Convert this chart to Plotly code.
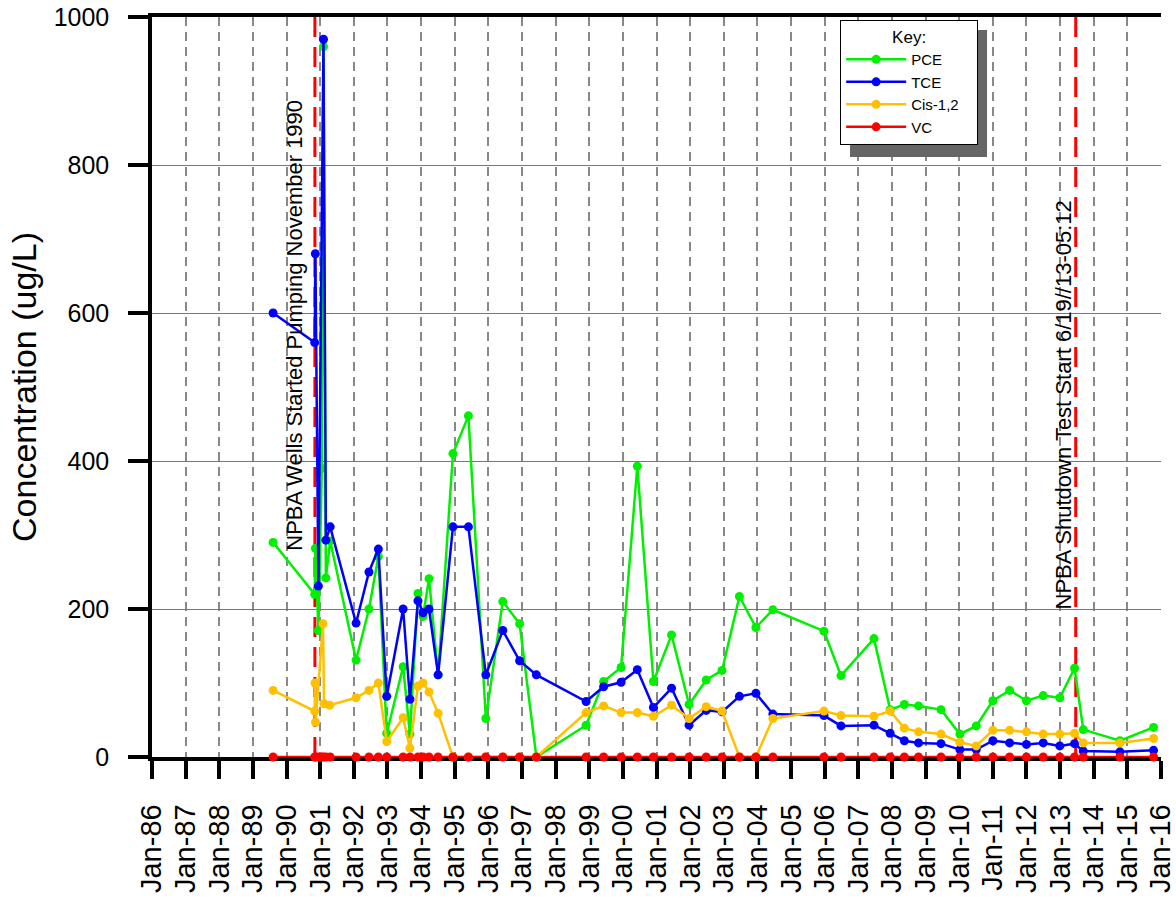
import plotly.graph_objects as go


# --------------------------------------------------------
# DATA
# --------------------------------------------------------

pce_dates = [
    "1989-08-08", "1990-11-03", "1990-11-10", "1990-12-13", "1991-01-19",
    "1991-02-06", "1991-03-04", "1991-04-20", "1992-01-26", "1992-06-14",
    "1992-09-24", "1992-12-24", "1993-06-20", "1993-09-02", "1993-11-28",
    "1994-01-22", "1994-03-28", "1994-07-05", "1994-12-13", "1995-05-30",
    "1995-12-05", "1996-06-06", "1996-12-06", "1997-06-06", "1998-11-28",
    "1999-06-06", "1999-12-13", "2000-06-06", "2000-11-28", "2001-06-13",
    "2001-12-20", "2002-06-24", "2002-12-13", "2003-06-20", "2003-12-16",
    "2004-06-17", "2005-12-24", "2006-06-27", "2007-06-20", "2007-12-13",
    "2008-05-15", "2008-10-16", "2009-06-17", "2010-01-08", "2010-07-05",
    "2011-01-01", "2011-07-02", "2012-01-01", "2012-07-01", "2012-12-28",
    "2013-06-06", "2013-09-09", "2014-10-12", "2015-10-12"
]
pce = [
    290, 220, 282, 171, 390,
    960, 242, 292, 131, 200,
    271, 32, 122, 31, 221,
    190, 241, 111, 410, 461,
    52, 210, 180, 0, 43,
    102, 121, 393, 102, 165,
    71, 104, 117, 217, 175,
    199, 170, 110, 160, 64,
    71, 69, 64, 31, 42,
    76, 90, 76, 83, 80,
    120, 37, 22, 40
]

tce_dates = [
    "1989-08-08", "1990-11-03", "1990-11-10", "1990-12-13", "1991-02-06",
    "1991-03-04", "1991-04-20", "1992-01-26", "1992-06-14", "1992-09-24",
    "1992-12-24", "1993-06-20", "1993-09-02", "1993-11-28", "1994-01-22",
    "1994-03-28", "1994-07-05", "1994-12-13", "1995-05-30", "1995-12-05",
    "1996-06-06", "1996-12-06", "1997-06-06", "1998-11-28", "1999-06-06",
    "1999-12-13", "2000-06-06", "2000-11-28", "2001-06-13", "2001-12-20",
    "2002-06-24", "2002-12-13", "2003-06-20", "2003-12-16", "2004-06-17",
    "2005-12-24", "2006-06-27", "2007-06-20", "2007-12-13", "2008-05-15",
    "2008-10-16", "2009-06-17", "2010-01-08", "2010-07-05", "2011-01-01",
    "2011-07-02", "2012-01-01", "2012-07-01", "2012-12-28", "2013-06-06",
    "2013-09-09", "2014-10-12", "2015-10-12"
]
tce = [
    600, 560, 680, 231, 970,
    293, 311, 181, 250, 281,
    82, 200, 78, 211, 195,
    200, 111, 311, 311, 111,
    171, 130, 111, 75, 95,
    101, 118, 67, 93, 43,
    63, 61, 82, 86, 58,
    56, 42, 43, 32, 22,
    19, 18, 10, 10, 22,
    19, 17, 19, 15, 18,
    8, 7, 9
]

cis_dates = [
    "1989-08-08", "1990-11-03", "1990-11-06", "1990-11-12", "1991-02-01",
    "1991-02-12", "1991-04-15", "1992-01-26", "1992-06-14", "1992-09-24",
    "1992-12-24", "1993-06-20", "1993-09-02", "1993-11-28", "1994-01-22",
    "1994-03-28", "1994-07-05", "1994-12-13", "1995-05-30", "1995-12-05",
    "1996-06-06", "1996-12-06", "1997-06-06", "1998-11-28", "1999-06-06",
    "1999-12-13", "2000-06-06", "2000-11-28", "2001-06-13", "2001-12-20",
    "2002-06-24", "2002-12-13", "2003-06-20", "2003-12-16", "2004-06-17",
    "2005-12-24", "2006-06-27", "2007-06-20", "2007-12-13", "2008-05-15",
    "2008-10-16", "2009-06-17", "2010-01-08", "2010-07-05", "2011-01-01",
    "2011-07-02", "2012-01-01", "2012-07-01", "2012-12-28", "2013-06-06",
    "2013-09-09", "2014-10-12", "2015-10-12"
]
cis = [
    90, 62, 100, 47, 180,
    72, 70, 80, 90, 100,
    21, 53, 12, 96, 100,
    88, 59, 0, 0, 0,
    0, 0, 0, 60, 69,
    60, 60, 55, 70, 52,
    68, 62, 0, 0, 52,
    62, 56, 55, 62, 39,
    34, 31, 20, 15, 36,
    36, 34, 31, 31, 32,
    19, 19, 25
]

vc_dates = pce_dates
vc = [0] * len(vc_dates)

series_names = ["PCE", "TCE", "Cis-1,2", "VC"]
series_colors = ["#00F000", "#0000FF", "#FFC000", "#FF0000"]

event_dates = ["1990-11-05", "2013-06-19"]
event_labels = [
    "NPBA Wells Started Pumping November 1990",
    "NPBA Shutdown Test Start 6/19//13-05:12"
]

y_ticks = [0, 200, 400, 600, 800, 1000]

FONT = "Arial, Liberation Sans, sans-serif"
PAD = "\u00a0" * 3


# --------------------------------------------------------
# FIGURE
# --------------------------------------------------------

fig = go.Figure()

for name, color, xs, ys in zip(
    series_names,
    series_colors,
    [pce_dates, tce_dates, cis_dates, vc_dates],
    [pce, tce, cis, vc]
):

    fig.add_trace(

        go.Scatter(

            x=xs,

            y=ys,

            mode="lines+markers",

            name=name + PAD,

            line=dict(
                color=color,
                width=2.5
            ),

            marker=dict(
                size=9,
                color=color
            ),

            cliponaxis=False

        )

    )

# event markers
for d, label, ypos, shift in zip(event_dates, event_labels, [0.584, 0.476], [-20, -12]):

    fig.add_shape(
        type="line",
        xref="x",
        yref="y",
        x0=d,
        x1=d,
        y0=0,
        y1=1000,
        line=dict(color="#FF0000", width=3, dash="20px,10px"),
        layer="between"
    )

    fig.add_annotation(
        x=d,
        y=ypos,
        xref="x",
        yref="paper",
        xshift=shift,
        text=label,
        textangle=-90,
        showarrow=False,
        font=dict(family=FONT, size=22, color="black")
    )

# legend shadow
fig.add_shape(
    type="rect",
    xref="paper",
    yref="paper",
    x0=0.6918,
    x1=0.8276,
    y0=0.8108,
    y1=0.9824,
    fillcolor="#666666",
    line=dict(width=0),
    layer="above"
)

fig.update_layout(

    width=1176,

    height=900,

    paper_bgcolor="white",

    plot_bgcolor="white",

    font=dict(family=FONT, color="black"),

    margin=dict(
        l=152,
        r=15,
        t=17,
        b=143
    ),

    showlegend=True,

    legend=dict(
        x=0.682,
        y=0.996,
        xanchor="left",
        yanchor="top",
        bgcolor="white",
        bordercolor="black",
        borderwidth=1,
        font=dict(size=15),
        title=dict(text="Key:", side="top center", font=dict(size=17)),
        itemwidth=60
    )

)

fig.update_xaxes(
    type="date",
    range=["1986-01-01", "2016-01-01"],
    tick0="1986-01-01",
    dtick="M12",
    tickformat="%b-%y",
    tickangle=-90,
    tickfont=dict(size=29),
    ticks="outside",
    ticklen=18,
    tickwidth=3.5,
    tickcolor="black",
    ticklabelstandoff=14,
    ticklabeloverflow="allow",
    showline=True,
    linecolor="black",
    linewidth=3.5,
    mirror=True,
    layer="below traces",
    automargin=False,
    showgrid=True,
    gridcolor="#888888",
    gridwidth=1.5,
    griddash="9px,6px",
    zeroline=False
)

fig.update_yaxes(
    range=[0, 1000],
    tickvals=y_ticks,
    tickfont=dict(size=25),
    ticks="outside",
    ticklen=20,
    tickwidth=3.5,
    tickcolor="black",
    ticklabelstandoff=14,
    ticklabeloverflow="allow",
    showline=True,
    linecolor="black",
    linewidth=3.5,
    layer="below traces",
    automargin=False,
    showgrid=True,
    gridcolor="#777777",
    gridwidth=1,
    zeroline=False,
    title=dict(text="Concentration (ug/L)", font=dict(size=34), standoff=8)
)

# drop the default 8px page margin so the figure fills the window
fig.write_html(
    "out.html",
    config={"displayModeBar": False},
    post_script="document.body.style.margin='0';document.body.style.overflow='hidden';"
)
